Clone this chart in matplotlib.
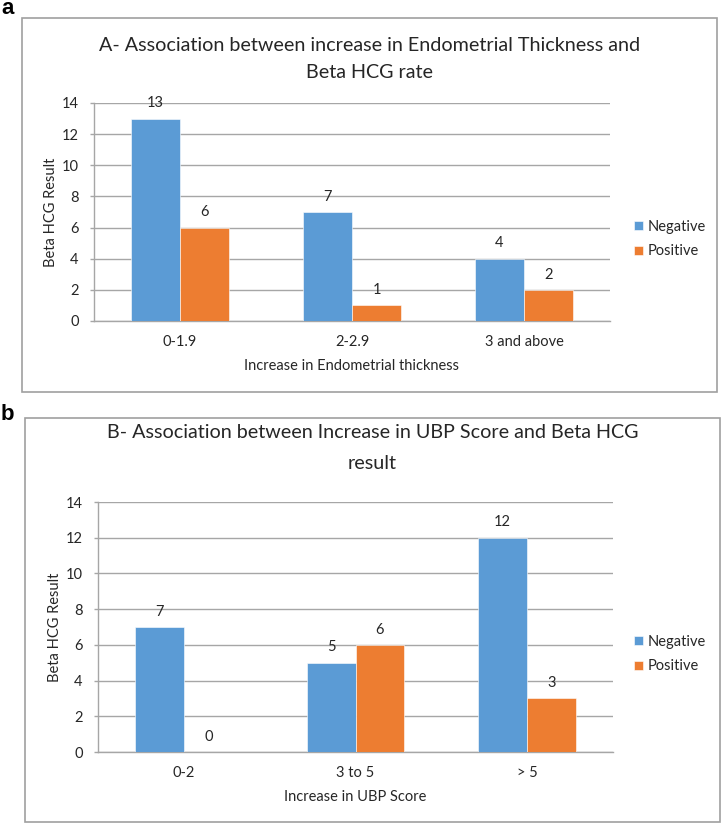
import matplotlib
matplotlib.use("Agg")
import matplotlib.pyplot as plt
from matplotlib.patches import Rectangle
import numpy as np

# ---- data ----
cats_a = ["0-1.9", "2-2.9", "3 and above"]
neg_a = [13, 7, 4]
pos_a = [6, 1, 2]
title_a = "A- Association between increase in Endometrial Thickness and\nBeta HCG rate"
xlabel_a = "Increase in Endometrial thickness"

cats_b = ["0-2", "3 to 5", "> 5"]
neg_b = [7, 5, 12]
pos_b = [0, 6, 3]
title_b = "B- Association between Increase in UBP Score and Beta HCG\nresult"
xlabel_b = "Increase in UBP Score"

ylabel = "Beta HCG Result"
series_names = ["Negative", "Positive"]
yticks = [0, 2, 4, 6, 8, 10, 12, 14]

BLUE = "#5B9BD5"
ORANGE = "#ED7D31"
GRID = "#A6A6A6"
TXT = "#262626"

plt.rcParams['font.family'] = ['Lato', 'DejaVu Sans']

W, H = 722, 824
fig = plt.figure(figsize=(W / 100, H / 100), dpi=100)


def fx(px):
    return px / W


def fy(py):
    return 1 - py / H


def panel(box, axrect, cats, neg, pos, title, title_y, title_ls, xlabel, leg_y):
    bx0, by0, bx1, by1 = box
    fig.add_artist(Rectangle((fx(bx0), fy(by1)), fx(bx1 - bx0), (by1 - by0) / H,
                             transform=fig.transFigure, fill=False,
                             edgecolor="#A0A0A0", linewidth=1.2))
    l, t, r, b = axrect
    ax = fig.add_axes([fx(l), fy(b), fx(r - l), (b - t) / H])
    x = np.arange(len(cats))
    w = 0.285
    bn = ax.bar(x - w / 2, neg, w, color=BLUE, edgecolor="white", linewidth=0.4, zorder=3, label=series_names[0])
    bp = ax.bar(x + w / 2, pos, w, color=ORANGE, edgecolor="white", linewidth=0.4, zorder=3, label=series_names[1])
    for bars, vals in ((bn, neg), (bp, pos)):
        for rect, v in zip(bars, vals):
            ax.annotate(str(v), (rect.get_x() + rect.get_width() / 2, v),
                        xytext=(0, 11), textcoords="offset points",
                        ha="center", va="center", fontsize=10.5, color=TXT,
                        annotation_clip=False, zorder=4)
    ax.set_xlim(-0.5, len(cats) - 0.5)
    ax.set_ylim(0, 14)
    ax.set_yticks(yticks)
    ax.set_xticks(x)
    ax.set_xticklabels(cats)
    ax.grid(axis="y", color=GRID, linewidth=1.0, zorder=0)
    ax.set_axisbelow(True)
    for s in ("top", "right"):
        ax.spines[s].set_visible(False)
    for s in ("left", "bottom"):
        ax.spines[s].set_color(GRID)
        ax.spines[s].set_linewidth(1.0)
    ax.tick_params(axis="y", length=3, width=1.0, color=GRID, pad=8, labelsize=10.5, labelcolor=TXT)
    ax.tick_params(axis="x", length=0, pad=10, labelsize=10.5, labelcolor=TXT)
    ax.set_ylabel(ylabel, fontsize=10.5, color=TXT, labelpad=3)
    ax.set_xlabel(xlabel, fontsize=10.5, color=TXT, labelpad=7)
    fig.text(fx((bx0 + bx1) / 2), fy(title_y), title, ha="center", va="center",
             fontsize=14.2, color=TXT, linespacing=title_ls)
    ax.legend(loc="center left", bbox_to_anchor=(fx(634), fy(leg_y)),
              bbox_transform=fig.transFigure, frameon=False, fontsize=10.5,
              handlelength=0.6, handleheight=0.6, handletextpad=0.35,
              labelspacing=0.75, borderpad=0, borderaxespad=0, labelcolor=TXT)
    return ax


panel((22, 18, 717, 392), (94, 103, 610, 321), cats_a, neg_a, pos_a,
      title_a, 59, 1.75, xlabel_a, 239)
panel((25, 418, 720, 822), (98, 502, 613, 752), cats_b, neg_b, pos_b,
      title_b, 448, 2.05, xlabel_b, 654)

fig.text(fx(1), fy(9), "a", ha="left", va="center", fontsize=16, fontweight="bold",
         family=["Liberation Sans", "DejaVu Sans"], color="black")
fig.text(fx(1), fy(414), "b", ha="left", va="center", fontsize=16, fontweight="bold",
         family=["Liberation Sans", "DejaVu Sans"], color="black")

fig.savefig("out.png", dpi=100)
